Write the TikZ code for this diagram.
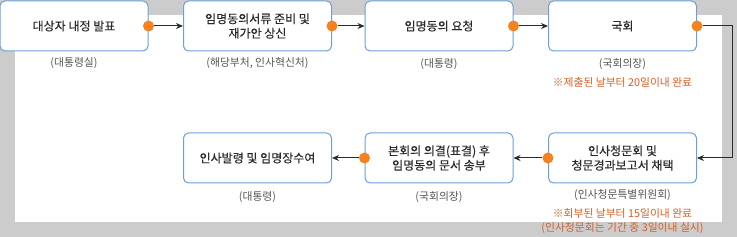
\documentclass[tikz,border=0pt]{standalone}
\usepackage{fontspec}
\setmainfont{Noto Sans CJK KR}
\newfontfamily\boxfont[FakeBold=0.3]{Noto Sans CJK KR}
\usetikzlibrary{arrows.meta}
\definecolor{bgray}{HTML}{CCCCCC}
\definecolor{boxline}{HTML}{6F9FD8}
\definecolor{dotor}{HTML}{F4831F}
\definecolor{notec}{HTML}{D95F26}
\definecolor{subc}{HTML}{555555}
\definecolor{mainc}{HTML}{2A2A2A}
\tikzset{
  box/.style={draw=boxline, line width=1pt, rounded corners=5pt, fill=white,
    minimum width=148pt, minimum height=50pt, align=center, inner sep=0pt,
    font=\boxfont\fontsize{12}{14.5}\selectfont, text=mainc},
  odot/.style={circle, fill=dotor, minimum size=11pt, inner sep=0pt},
  arr/.style={draw=mainc, line width=1pt, -{Stealth[length=7pt,width=6pt]}},
  sub/.style={font=\fontsize{10.8}{12}\selectfont, text=subc, inner sep=0pt},
  note/.style={font=\fontsize{10.8}{14}\selectfont, text=notec, inner sep=0pt, align=center}
}
\begin{document}
\begin{tikzpicture}[x=1pt,y=-1pt]
\fill[bgray] (0,0) rectangle (737,237);
\fill[white] (15,15) rectangle (722,222);
\useasboundingbox (0,0) rectangle (737,237);
% top row
\node[box] (b1) at (74,26) {대상자 내정 발표};
\node[box] (b2) at (257.5,26) {임명동의서류 준비 및\\재가안 상신};
\node[box] (b3) at (439,26) {임명동의 요청};
\node[box] (b4) at (622.5,26) {국회};
% bottom row
\node[box] (b5) at (622.5,158) {인사청문회 및\\청문경과보고서 채택};
\node[box] (b6) at (439,158) {본회의 의결(표결) 후\\임명동의 문서 송부};
\node[box] (b7) at (257.5,158) {인사발령 및 임명장수여};
% dots
\node[odot] (d1) at (b1.east) {};
\node[odot] (d2) at (b2.east) {};
\node[odot] (d3) at (b3.east) {};
\node[odot] (d4) at (b4.east) {};
\node[odot] (d5) at (b5.west) {};
\node[odot] (d6) at (b6.west) {};
% connectors
\draw[arr] (d1) -- (b2.west);
\draw[arr] (d2) -- (b3.west);
\draw[arr] (d3) -- (b4.west);
\coordinate (c1) at (732,26);
\coordinate (c2) at (732,158);
\draw[arr] (d4) -- (c1) -- (c2) -- (b5.east);
\draw[arr] (d5) -- (b6.east);
\draw[arr] (d6) -- (b7.east);
% labels
\node[sub] (l1) at (74,63) {(대통령실)};
\node[sub] (l2) at (257.5,63) {(해당부처, 인사혁신처)};
\node[sub] (l3) at (439,64) {(대통령)};
\node[sub] (l4) at (622.5,64) {(국회의장)};
\node[note] (n4) at (622.5,82) {※제출된 날부터 20일이내 완료};
\node[sub] (l5) at (622.5,195) {(인사청문특별위원회)};
\node[note] (n5) at (622.5,221) {※회부된 날부터 15일이내 완료\\(인사청문회는 기간 중 3일이내 실시)};
\node[sub] (l6) at (439,197) {(국회의장)};
\node[sub] (l7) at (257.5,197) {(대통령)};
\end{tikzpicture}
\end{document}
